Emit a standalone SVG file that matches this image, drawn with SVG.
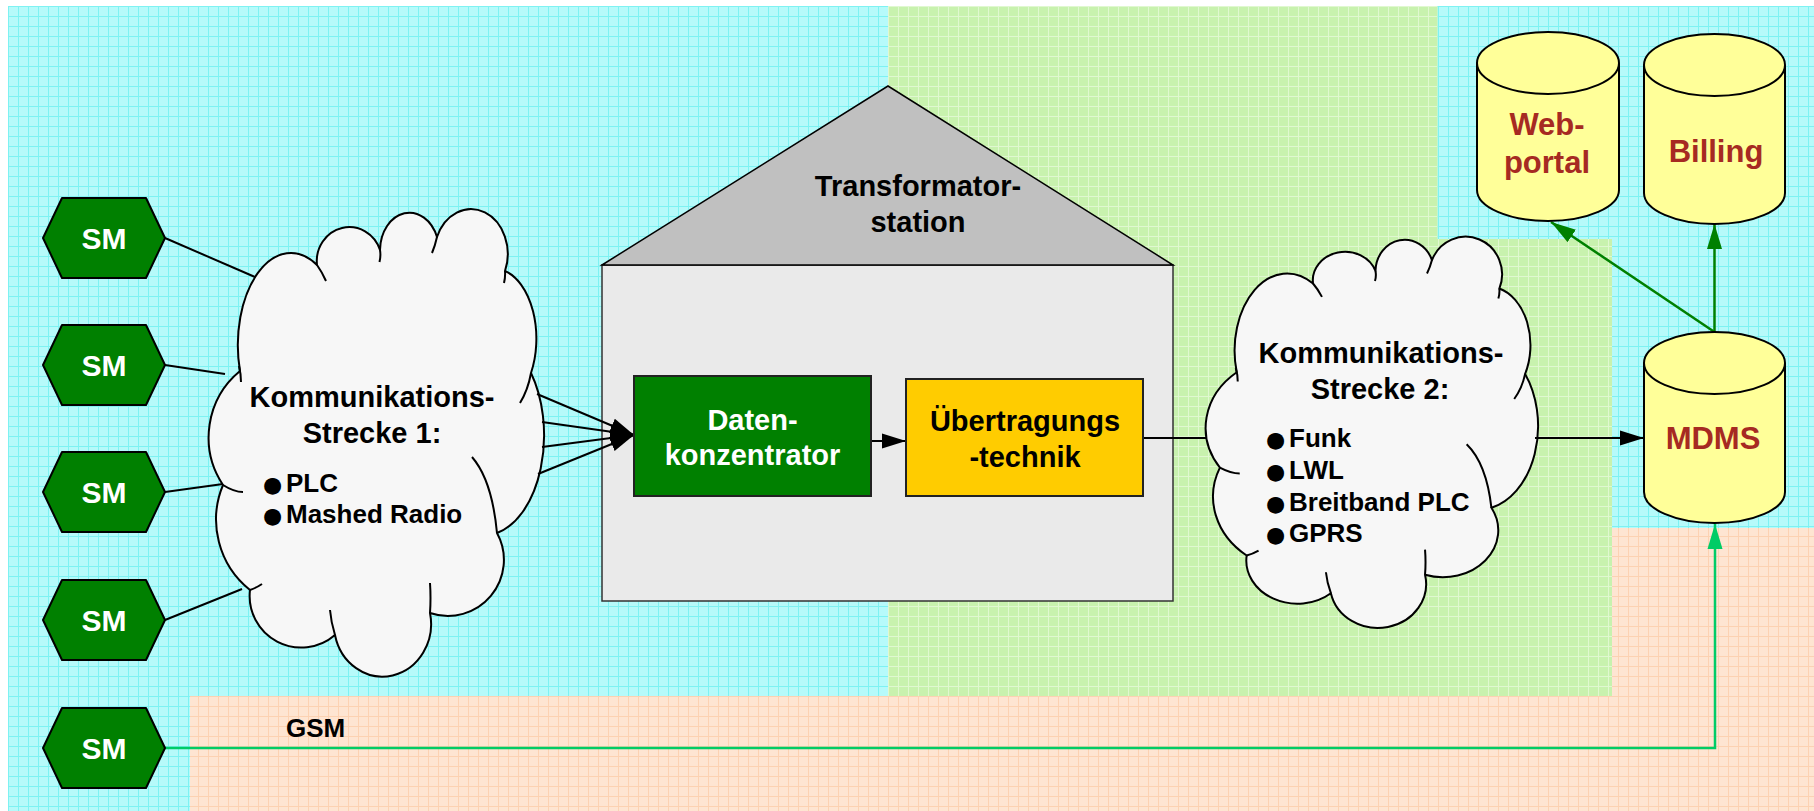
<svg xmlns="http://www.w3.org/2000/svg" width="1814" height="811" viewBox="0 0 1814 811">
<defs>
<style>
text{font-family:"Liberation Sans",Arial,sans-serif;font-weight:bold}
.ti{font-size:29px;fill:#000;text-anchor:middle}
.tw{font-size:29px;fill:#fff;text-anchor:middle}
.bu{font-size:26px;fill:#000}
.dot{font-family:"DejaVu Sans",sans-serif;font-size:22px}
.sm{font-size:30px;fill:#fff;text-anchor:middle}
.db{font-size:31px;fill:#a62a22;text-anchor:middle}
.hex{fill:#008000;stroke:#000;stroke-width:2;stroke-linejoin:round}
.cloud{fill:#f7f7f7;stroke:#000;stroke-width:2;stroke-linejoin:round}
.hint{fill:none;stroke:#000;stroke-width:2}
.cyl{fill:#ffff99;stroke:#000;stroke-width:2}
.ln{fill:none;stroke:#000;stroke-width:2}
.gl{fill:none;stroke:#008000;stroke-width:2.5}
.gsm{fill:none;stroke:#00cc66;stroke-width:2.5}
</style>
<pattern id="pc" width="10" height="10" patternUnits="userSpaceOnUse" x="8" y="6"><rect width="10" height="10" fill="#b6fafa"/><path d="M0 .5H10M.5 0V10" stroke="#7ef2f2" stroke-width="1"/></pattern>
<pattern id="pg" width="10" height="10" patternUnits="userSpaceOnUse" x="8" y="6"><rect width="10" height="10" fill="#c8f2ae"/><path d="M0 .5H10M.5 0V10" stroke="#e0f8d0" stroke-width="1"/></pattern>
<pattern id="po" width="10" height="10" patternUnits="userSpaceOnUse" x="8" y="6"><rect width="10" height="10" fill="#fee5d2"/><path d="M0 .5H10M.5 0V10" stroke="#fcd2b2" stroke-width="1"/></pattern>
<marker id="ab" markerUnits="userSpaceOnUse" viewBox="0 0 24 16" markerWidth="24" markerHeight="16" refX="24" refY="8" orient="auto"><path d="M0 0.5L24 8L0 15.5Z" fill="#000"/></marker>
<marker id="ag" markerUnits="userSpaceOnUse" viewBox="0 0 25 16" markerWidth="25" markerHeight="16" refX="25" refY="8" orient="auto"><path d="M0 0.5L25 8L0 15.5Z" fill="#008000"/></marker>
<marker id="as" markerUnits="userSpaceOnUse" viewBox="0 0 25 16" markerWidth="25" markerHeight="16" refX="25" refY="8" orient="auto"><path d="M0 0.5L25 8L0 15.5Z" fill="#00cc66"/></marker>
</defs>

<g id="background">
<rect width="1814" height="811" fill="#fff"/>
<rect x="8" y="6" width="1806" height="805" fill="url(#pc)"/>
<path d="M888 6H1437.5V239H1612V696H888Z" fill="url(#pg)"/>
<path d="M190 696H1612V528H1814V811H190Z" fill="url(#po)"/>
</g>

<g id="transformatorstation">
<rect x="602" y="265" width="571" height="336" fill="#eaeaea" stroke="#333" stroke-width="1.5"/>
<path d="M602 265L888 86L1173 265Z" fill="#c0c0c0" stroke="#000" stroke-width="1.5"/>
<text class="ti" x="918" y="196">Transformator-</text>
<text class="ti" x="918" y="232">station</text>
</g>

<g id="cloud1">
<path class="cloud" d="M240 371A53 92 0 0 1 317 265A32.5 34 0 0 1 380 250A29.5 38 0 0 1 437 237A36 44 0 0 1 505 271A42 70 0 0 1 531 373A60 100 0 0 1 497 533A56 56 0 0 1 430 613A48 52 0 0 1 335 635A51.6 51.6 0 0 1 250 590A90 90 0 0 1 223 485A86 86 0 0 1 240 371Z"/>
<path class="hint" d="M239 366Q241 374 241 382M317 265Q322 272 326 281M380 250Q381 256 379.5 262M437 237Q435 246 432 253M505 271Q505.5 277 504 283M531 373Q528 390 520 403M472 457Q492 480 497 533M430 613Q431 598 430 583M335 635Q331 622 330 610M250 590Q256 588 262 584M223 485Q234 492 243 492"/>
<text class="ti" x="372" y="407">Kommunikations-</text>
<text class="ti" x="372" y="443">Strecke 1:</text>
<text class="bu" y="491.7"><tspan class="dot" x="263">●</tspan><tspan x="286">PLC</tspan></text>
<text class="bu" y="523.3"><tspan class="dot" x="263">●</tspan><tspan x="286">Mashed Radio</tspan></text>
</g>

<g id="cloud2">
<g transform="matrix(0.991 0 0 0.837 998.9 61.7)">
<path class="cloud" vector-effect="non-scaling-stroke" d="M240 371A53 92 0 0 1 317 265A32.5 34 0 0 1 380 250A29.5 38 0 0 1 437 237A36 44 0 0 1 505 271A42 70 0 0 1 531 373A60 100 0 0 1 497 533A56 56 0 0 1 430 613A48 52 0 0 1 335 635A51.6 51.6 0 0 1 250 590A90 90 0 0 1 223 485A86 86 0 0 1 240 371Z"/>
<path class="hint" vector-effect="non-scaling-stroke" d="M239 366Q241 374 241 382M317 265Q322 272 326 281M380 250Q381 256 379.5 262M437 237Q435 246 432 253M505 271Q505.5 277 504 283M531 373Q528 390 520 403M472 457Q492 480 497 533M430 613Q431 598 430 583M335 635Q331 622 330 610M250 590Q256 588 262 584M223 485Q234 492 243 492"/>
</g>
<text class="ti" x="1381" y="363">Kommunikations-</text>
<text class="ti" x="1380" y="399">Strecke 2:</text>
<text class="bu" y="446.7"><tspan class="dot" x="1266">●</tspan><tspan x="1289">Funk</tspan></text>
<text class="bu" y="479"><tspan class="dot" x="1266">●</tspan><tspan x="1289">LWL</tspan></text>
<text class="bu" y="511"><tspan class="dot" x="1266">●</tspan><tspan x="1289">Breitband PLC</tspan></text>
<text class="bu" y="542.3"><tspan class="dot" x="1266">●</tspan><tspan x="1289">GPRS</tspan></text>
</g>

<g id="connectors">
<path class="ln" d="M165 238L255 277"/>
<path class="ln" d="M165 365L225 374"/>
<path class="ln" d="M165 492L223 484"/>
<path class="ln" d="M165 620L242 589"/>
<path class="ln" d="M537 394L634 435" marker-end="url(#ab)"/>
<path class="ln" d="M542 422L634 435" marker-end="url(#ab)"/>
<path class="ln" d="M542 447L634 435" marker-end="url(#ab)"/>
<path class="ln" d="M538 474L634 435" marker-end="url(#ab)"/>
<path class="ln" d="M871 441H906" marker-end="url(#ab)"/>
<path class="ln" d="M1143 438H1207"/>
<path class="ln" d="M1535 438H1644" marker-end="url(#ab)"/>
<path class="gl" d="M1714.5 332V224" marker-end="url(#ag)"/>
<path class="gl" d="M1714.5 332L1551 222" marker-end="url(#ag)"/>
<path class="gsm" d="M165 748H1715V524" marker-end="url(#as)"/>
<text class="bu" x="286" y="737">GSM</text>
</g>

<g id="datenkonzentrator">
<rect x="634" y="376" width="237" height="120" fill="#008000" stroke="#222" stroke-width="2"/>
<text class="tw" x="752.5" y="429.5">Daten-</text>
<text class="tw" x="752.5" y="465">konzentrator</text>
</g>

<g id="uebertragungstechnik">
<rect x="906" y="379" width="237" height="117" fill="#ffcc00" stroke="#222" stroke-width="2"/>
<text class="ti" x="1025" y="431">Übertragungs</text>
<text class="ti" x="1025" y="467">-technik</text>
</g>

<g id="sm1"><path class="hex" d="M43 238L62 198H146L165 238L146 278H62Z"/><text class="sm" x="104" y="249">SM</text></g>
<g id="sm2"><path class="hex" d="M43 365L62 325H146L165 365L146 405H62Z"/><text class="sm" x="104" y="376">SM</text></g>
<g id="sm3"><path class="hex" d="M43 492L62 452H146L165 492L146 532H62Z"/><text class="sm" x="104" y="503">SM</text></g>
<g id="sm4"><path class="hex" d="M43 620L62 580H146L165 620L146 660H62Z"/><text class="sm" x="104" y="631">SM</text></g>
<g id="sm5"><path class="hex" d="M43 748L62 708H146L165 748L146 788H62Z"/><text class="sm" x="104" y="759">SM</text></g>

<g id="webportal">
<path class="cyl" d="M1477 63V190A71 31 0 0 0 1619 190V63"/>
<ellipse class="cyl" cx="1548" cy="63" rx="71" ry="31"/>
<text class="db" x="1547" y="135">Web-</text>
<text class="db" x="1547" y="173">portal</text>
</g>
<g id="billing">
<path class="cyl" d="M1644 65V193A70.5 31 0 0 0 1785 193V65"/>
<ellipse class="cyl" cx="1714.5" cy="65" rx="70.5" ry="31"/>
<text class="db" x="1716" y="162">Billing</text>
</g>
<g id="mdms">
<path class="cyl" d="M1644 363V492A70.5 31 0 0 0 1785 492V363"/>
<ellipse class="cyl" cx="1714.5" cy="363" rx="70.5" ry="31"/>
<text class="db" x="1713" y="449">MDMS</text>
</g>
</svg>
